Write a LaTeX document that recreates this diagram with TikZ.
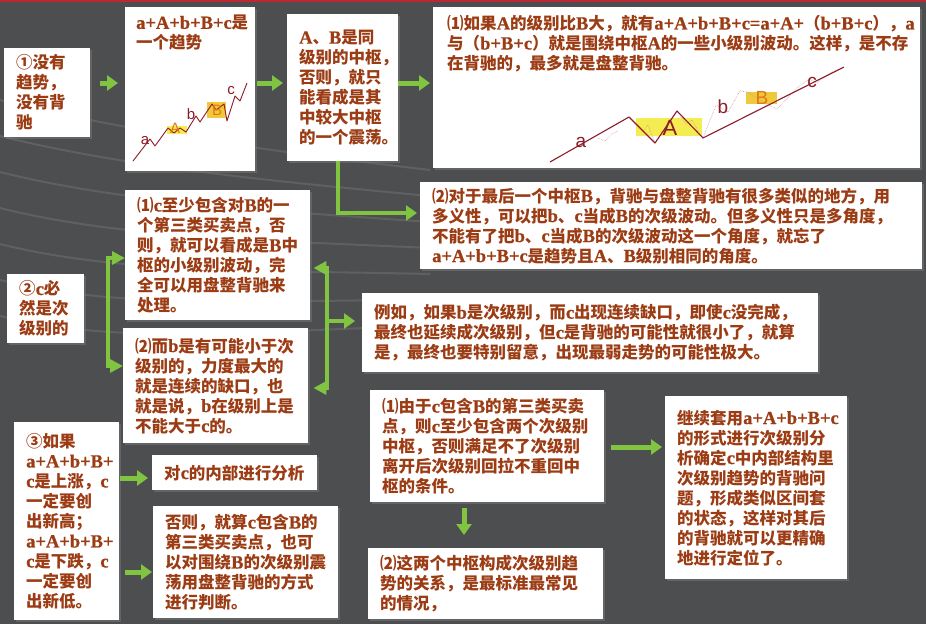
\documentclass[tikz,border=0pt]{standalone}
\usepackage{fontspec}
\setmainfont{Noto Sans CJK SC}
\newfontfamily\tmfont{Liberation Serif}[Scale=1.12, BoldFeatures={FakeBold=0.8}]
\newfontfamily\arialfont{Liberation Sans}
\usetikzlibrary{arrows.meta,shadows}
\definecolor{slate}{RGB}{76,78,80}
\definecolor{topred}{RGB}{190,40,50}
\definecolor{txtbrown}{RGB}{156,60,20}
\definecolor{arrowgreen}{RGB}{128,196,66}
\definecolor{wavered}{RGB}{140,28,40}
\definecolor{subpink}{RGB}{205,150,150}
\definecolor{zoneyellow}{RGB}{244,236,80}
\definecolor{zonegold}{RGB}{240,200,60}
\definecolor{labelorange}{RGB}{226,120,20}
\newcommand{\tm}[1]{{\tmfont\bfseries #1}}
\tikzset{
    note/.style = {rectangle, fill=white, anchor=north west, align=left, inner xsep=12pt, inner ysep=2pt, text=txtbrown, font=\fontsize{16.5}{20}\selectfont\bfseries, drop shadow={shadow xshift=2pt, shadow yshift=-2pt, opacity=0.45}},
    picbox/.style = {note, inner sep=0pt},
    notetext/.style = {anchor=north west, align=left, inner sep=0pt, text=txtbrown, font=\fontsize{16.5}{20}\selectfont\bfseries},
    garrow/.style = {draw=arrowgreen, line width=5pt, -{Triangle[width=15pt,length=11pt]}},
    gbracket/.style = {draw=arrowgreen, line width=4pt, {Triangle[width=13pt,length=13pt]}-{Triangle[width=13pt,length=13pt]}},
    wave/.style = {draw=wavered, line width=1.1pt, line join=round},
    subwave/.style = {draw=subpink, line width=0.6pt, densely dotted},
    wavelabel/.style = {text=wavered, inner sep=0pt, font=\arialfont\fontsize{19}{19}\selectfont},
    smalllabel/.style = {wavelabel, font=\arialfont\fontsize{15}{15}\selectfont}
}
\begin{document}
\begin{tikzpicture}[x=1pt, y=-1pt]
    \useasboundingbox (0,0) rectangle (926,624);
    % background
    \fill[slate] (0,0) rectangle (926,624);
    \foreach \k in {0,...,6}
        \draw[white, opacity=0.1, line width=2pt] (0,{100+\k*36}) .. controls (120,{130+\k*36}) and (260,{150+\k*30}) .. (430,{170+\k*26});
    \fill[topred] (0,0) rectangle (926,2);

    % boxes
    \node[note, text width=62pt, minimum height=89pt] (noTrend) at (4,48) {①没有\\趋势，\\没有背\\驰};
    \node[picbox, minimum width=130pt, minimum height=164pt] (trendPic) at (125,7) {};
    \node[notetext] (trendText) at ([xshift=11pt,yshift=-8pt]trendPic.north west) {\tm{a+A+b+B+c}是\\一个趋势};
    \node[note, text width=87pt, minimum height=147pt] (sameLevel) at (287,14) {\tm{A}、\tm{B}是同\\级别的中枢，\\否则，就只\\能看成是其\\中较大中枢\\的一个震荡。};
    \node[picbox, minimum width=487pt, minimum height=161pt] (bigLevel) at (433,7) {};
    \node[notetext] (bigText) at ([xshift=14pt,yshift=-8pt]bigLevel.north west) {⑴如果\tm{A}的级别比\tm{B}大，就有\tm{a+A+b+B+c=a+A+}（\tm{b+B+c}），\tm{a}\\与（\tm{b+B+c}）就是围绕中枢\tm{A}的一些小级别波动。这样，是不存\\在背驰的，最多就是盘整背驰。};
    \node[note, text width=478pt, minimum height=87pt] (lastCenter) at (420,182) {⑵对于最后一个中枢\tm{B}，背驰与盘整背驰有很多类似的地方，用\\多义性，可以把\tm{b}、\tm{c}当成\tm{B}的次级波动。但多义性只是多角度，\\不能有了把\tm{b}、\tm{c}当成\tm{B}的次级波动这一个角度，就忘了\\\tm{a+A+b+B+c}是趋势且\tm{A}、\tm{B}级别相同的角度。};
    \node[note, text width=53pt, minimum height=69pt] (cSub) at (7,274) {②\tm{c}必\\然是次\\级别的};
    \node[note, text width=161pt, minimum height=130pt] (thirdPoint) at (125,190) {⑴\tm{c}至少包含对\tm{B}的一\\个第三类买卖点，否\\则，就可以看成是\tm{B}中\\枢的小级别波动，完\\全可以用盘整背驰来\\处理。};
    \node[note, text width=161pt, minimum height=115pt] (bSmall) at (123,328) {⑵而\tm{b}是有可能小于次\\级别的，力度最大的\\就是连续的缺口，也\\就是说，\tm{b}在级别上是\\不能大于\tm{c}的。};
    \node[note, text width=432pt, minimum height=79pt] (example) at (362,293) {例如，如果\tm{b}是次级别，而\tm{c}出现连续缺口，即使\tm{c}没完成，\\最终也延续成次级别，但\tm{c}是背驰的可能性就很小了，就算\\是，最终也要特别留意，出现最弱走势的可能性极大。};
    \node[note, text width=81pt, minimum height=198pt] (newHigh) at (14,422) {③如果\\\tm{a+A+b+B+}\\\tm{c}是上涨，\tm{c}\\一定要创\\出新高；\\\tm{a+A+b+B+}\\\tm{c}是下跌，\tm{c}\\一定要创\\出新低。};
    \node[note, text width=141pt, minimum height=35pt] (inner) at (152,455) {对\tm{c}的内部进行分析};
    \node[note, text width=161pt, minimum height=112pt] (otherwise) at (153,506) {否则，就算\tm{c}包含\tm{B}的\\第三类买卖点，也可\\以对围绕\tm{B}的次级别震\\荡用盘整背驰的方式\\进行判断。};
    \node[note, text width=210pt, minimum height=112pt] (twoCenters) at (370,390) {⑴由于\tm{c}包含\tm{B}的第三类买卖\\点，则\tm{c}至少包含两个次级别\\中枢，否则满足不了次级别\\离开后次级别回拉不重回中\\枢的条件。};
    \node[note, text width=211pt, minimum height=71pt] (standard) at (368,548) {⑵这两个中枢构成次级别趋\\势的关系，是最标准最常见\\的情况，};
    \node[note, text width=158pt, minimum height=183pt] (nested) at (665,396) {继续套用\tm{a+A+b+B+c}\\的形式进行次级别分\\析确定\tm{c}中内部结构里\\次级别趋势的背驰问\\题，形成类似区间套\\的状态，这样对其后\\的背驰就可以更精确\\地进行定位了。};

    % small trend sketch
    \fill[zoneyellow] (167,126) rectangle (187,134);
    \fill[zonegold] (207,102) rectangle (226,118);
    \draw[wave, line width=0.9pt] (133,161) -- (150,139) -- (155,146) -- (168,128) -- (174,133) -- (180,128) -- (186,132) -- (196,116) -- (200,122) -- (212,104) -- (216,110) -- (224,104) -- (227,121) -- (235,96) -- (240,101) -- (247,83);
    \node[smalllabel] (sa) at (145,141) {a};
    \node[smalllabel, text=labelorange] (sA) at (175,128) {A};
    \node[smalllabel] (sb) at (191,114) {b};
    \node[smalllabel, text=labelorange] (sB) at (217,110) {B};
    \node[smalllabel] (sc) at (231,91) {c};

    % big trend sketch
    \fill[zoneyellow] (636,118) rectangle (702,136);
    \fill[zonegold] (746,92) rectangle (777,104);
    \draw[subwave] (598,138) -- (605,141) -- (612,134) -- (618,131);
    \draw[subwave] (637,124) -- (643,131) -- (648,125) -- (654,141);
    \draw[subwave] (680,116) -- (686,124) -- (692,120) -- (700,134);
    \draw[subwave] (703,138) -- (716,105) -- (728,112) -- (740,91) -- (747,92) -- (763,102) -- (777,109) -- (797,88) -- (809,79) -- (817,83) -- (830,73) -- (844,67);
    \draw[wave] (550,162) -- (629,117) -- (655,143) -- (677,111) -- (703,138) -- (844,67);
    \node[wavelabel] (ba) at (581,142) {a};
    \node[wavelabel, font=\arialfont\fontsize{22}{22}\selectfont] (bA) at (670,128) {A};
    \node[wavelabel] (bb) at (723,107) {b};
    \node[wavelabel, text=labelorange] (bB) at (762,98) {B};
    \node[wavelabel] (bc) at (812,82) {c};

    % connectors
    \coordinate (rowTop) at (0,83);
    \coordinate (lBend) at (338,213);
    \coordinate (lbTop) at (108,258);
    \coordinate (lbBot) at (108,366);
    \coordinate (rbTop) at (327,268);
    \coordinate (rbBot) at (327,388);
    \coordinate (rbMid) at (327,321);
    \coordinate (rowInner) at (0,478);
    \coordinate (rowOther) at (0,572);
    \coordinate (colDown) at (464,0);
    \coordinate (rowNested) at (0,447);

    \draw[garrow, shorten <=10pt, shorten >=7pt] (noTrend.east |- rowTop) -- (trendPic.west |- rowTop);
    \draw[garrow, shorten <=2pt, shorten >=4pt] (trendPic.east |- rowTop) -- (sameLevel.west |- rowTop);
    \draw[garrow, shorten >=3pt] (sameLevel.east |- rowTop) -- (bigLevel.west |- rowTop);
    \draw[garrow, line width=4.5pt, shorten >=3pt] (sameLevel.south -| lBend) -- (lBend) -- (lastCenter.west |- lBend);
    \draw[gbracket] (thirdPoint.west |- lbTop) -- (lbTop) -- (lbBot) -- (bSmall.west |- lbBot);
    \draw[gbracket, shorten <=3pt, shorten >=5pt] (thirdPoint.east |- rbTop) -- (rbTop) -- (rbBot) -- (bSmall.east |- rbBot);
    \draw[garrow, line width=4pt, shorten >=7pt] (rbMid) -- (example.west |- rbMid);
    \draw[garrow, shorten <=1pt, shorten >=4pt] (newHigh.east |- rowInner) -- (inner.west |- rowInner);
    \draw[garrow, shorten <=6pt, shorten >=1pt] (newHigh.east |- rowOther) -- (otherwise.west |- rowOther);
    \draw[garrow, shorten <=6pt, shorten >=13pt] (twoCenters.south -| colDown) -- (standard.north -| colDown);
    \draw[garrow, shorten <=7pt, shorten >=3pt] (twoCenters.east |- rowNested) -- (nested.west |- rowNested);
\end{tikzpicture}
\end{document}
